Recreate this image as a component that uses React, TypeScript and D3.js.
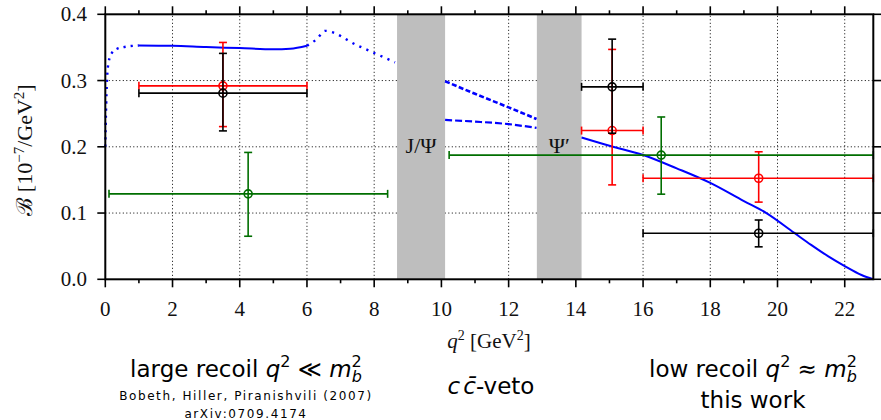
import React from 'react';
import * as d3 from 'd3';

// ---------- data ----------
const xDomain = [0, 22.85];
const yDomain = [0, 0.4];
const xTicksMajor = [0, 2, 4, 6, 8, 10, 12, 14, 16, 18, 20, 22];
const xTicksMinor = [1, 3, 5, 7, 9, 11, 13, 15, 17, 19, 21];
const yTicks = [0, 0.1, 0.2, 0.3, 0.4];
const yTickLabels = ['0.0', '0.1', '0.2', '0.3', '0.4'];
const xGrid = [2, 4, 6, 8, 10, 12, 14, 16, 18, 20, 22];
const yGrid = [0.1, 0.2, 0.3];
const vetoBands: [number, number][] = [[8.68, 10.11], [12.84, 14.17]];
const vetoLabels = ['J/Ψ', 'Ψ′'];

// theory curve pieces [q2, B]
const curveLowDotted: [number, number][] = [
  [0, 0.2], [0.02, 0.25], [0.05, 0.3], [0.1, 0.328], [0.2, 0.342], [0.35, 0.348], [0.6, 0.351], [1, 0.353],
];
const curveLowSolid: [number, number][] = [
  [1, 0.353], [2, 0.3525], [3, 0.3505], [4, 0.349], [5, 0.3472], [5.5, 0.348], [6, 0.3525],
];
const curveMidDotted: [number, number][] = [
  [6, 0.3525], [6.3, 0.363], [6.54, 0.375], [7.5, 0.353], [8.62, 0.3275],
];
const curveUpperDashed: [number, number][] = [
  [10.11, 0.299], [11, 0.28], [12, 0.2595], [12.83, 0.242],
];
const curveLowerDashed: [number, number][] = [
  [10.11, 0.2405], [11, 0.238], [12, 0.2342], [12.83, 0.2285],
];
const curveHigh: [number, number][] = [
  [14.17, 0.214], [15, 0.2015], [16, 0.1876], [17, 0.1675], [18, 0.1455], [19, 0.118],
  [19.67, 0.1], [20.5, 0.07], [21, 0.052], [21.5, 0.035], [22, 0.02], [22.5, 0.0065], [22.85, 0],
];

// measurements: x, xLow, xHigh, y, yLow, yHigh
const redPoints = [
  [3.5, 1, 6, 0.292, 0.2305, 0.3575],
  [15.08, 14.17, 16, 0.2245, 0.1425, 0.347],
  [19.44, 16, 22.85, 0.1525, 0.1165, 0.1925],
];
const blackPoints = [
  [3.5, 1, 6, 0.281, 0.224, 0.341],
  [15.08, 14.17, 16, 0.2905, 0.2205, 0.3625],
  [19.44, 16, 22.85, 0.0695, 0.049, 0.0895],
];
const greenPoints = [
  [4.25, 0.11, 8.4, 0.129, 0.065, 0.1915],
  [16.54, 10.23, 22.85, 0.1875, 0.1285, 0.245],
];

// ---------- layout ----------
const W = 881;
const H = 420;
const x = d3.scaleLinear().domain(xDomain).range([105.3, 873.3]);
const y = d3.scaleLinear().domain(yDomain).range([279.3, 14.3]);

const line = d3
  .line<[number, number]>()
  .x((d) => x(d[0]))
  .y((d) => y(d[1]))
  .curve(d3.curveMonotoneX);

const SERIF = '"Liberation Serif", "DejaVu Serif", serif';
const SANS = '"DejaVu Sans", sans-serif';
const BLUE = '#0000ff';
const RED = '#ff0000';
const GREEN = '#006e00';

function ErrPoints({ data, color }: { data: number[][]; color: string }) {
  const cap = 4;
  return (
    <g stroke={color} strokeWidth={1.6} fill="none">
      {data.map((p, i) => {
        const [px, xl, xh, py, yl, yh] = p;
        const cx = x(px), cy = y(py);
        return (
          <g key={i}>
            <line x1={x(xl)} x2={x(xh)} y1={cy} y2={cy} />
            <line x1={x(xl)} x2={x(xl)} y1={cy - cap} y2={cy + cap} />
            <line x1={x(xh)} x2={x(xh)} y1={cy - cap} y2={cy + cap} />
            <line x1={cx} x2={cx} y1={y(yl)} y2={y(yh)} />
            <line x1={cx - cap} x2={cx + cap} y1={y(yl)} y2={y(yl)} />
            <line x1={cx - cap} x2={cx + cap} y1={y(yh)} y2={y(yh)} />
            <circle cx={cx} cy={cy} r={4} />
          </g>
        );
      })}
    </g>
  );
}

export default function App() {
  const [x0, x1] = x.range();
  const [y0, y1] = y.range();
  return (
    <div style={{ position: 'absolute', left: 0, top: 0 }}>
      <svg width={W} height={H} viewBox={`0 0 ${W} ${H}`} style={{ display: 'block', background: '#fff' }}>
        {/* grid */}
        <g stroke="#000" strokeWidth={1} strokeDasharray="1 2.5">
          {xGrid.map((v) => (
            <line key={'gx' + v} x1={x(v)} x2={x(v)} y1={y0} y2={y1} />
          ))}
          {yGrid.map((v) => (
            <line key={'gy' + v} x1={x0} x2={x1} y1={y(v)} y2={y(v)} />
          ))}
        </g>
        {/* veto bands */}
        {vetoBands.map((b, i) => (
          <rect key={'b' + i} x={x(b[0])} y={y1} width={x(b[1]) - x(b[0])} height={y0 - y1} fill="#bebebe" />
        ))}
        {vetoBands.map((b, i) => (
          <text key={'bl' + i} x={(x(b[0]) + x(b[1])) / 2} y={153} textAnchor="middle" fontFamily={SERIF} fontSize={22} fill="#111">
            {vetoLabels[i]}
          </text>
        ))}
        {/* theory curves */}
        <g fill="none" stroke={BLUE}>
          <path d={line(curveLowDotted) || ''} strokeWidth={2.4} strokeDasharray="2.2 5" />
          <path d={line(curveLowSolid) || ''} strokeWidth={2} />
          <path d={line(curveMidDotted) || ''} strokeWidth={2.4} strokeDasharray="2.2 5.5" />
          <path d={line(curveUpperDashed) || ''} strokeWidth={2.6} strokeDasharray="5 2.4" />
          <path d={line(curveLowerDashed) || ''} strokeWidth={2.2} strokeDasharray="7 3" />
          <path d={line(curveHigh) || ''} strokeWidth={2} />
        </g>
        {/* measurements */}
        <ErrPoints data={redPoints} color={RED} />
        <ErrPoints data={blackPoints} color="#000" />
        <ErrPoints data={greenPoints} color={GREEN} />
        {/* frame */}
        <rect x={x0} y={y1} width={x1 - x0} height={y0 - y1} fill="none" stroke="#000" strokeWidth={2} />
        {/* ticks */}
        <g stroke="#000" strokeWidth={1.6}>
          {xTicksMajor.map((v) => (
            <g key={'tM' + v}>
              <line x1={x(v)} x2={x(v)} y1={y0} y2={y0 + 8} />
              <line x1={x(v)} x2={x(v)} y1={y1} y2={y1 - 8} />
            </g>
          ))}
          {xTicksMinor.map((v) => (
            <g key={'tm' + v}>
              <line x1={x(v)} x2={x(v)} y1={y0} y2={y0 + 4} />
              <line x1={x(v)} x2={x(v)} y1={y1} y2={y1 - 4} />
            </g>
          ))}
          {yTicks.map((v) => (
            <g key={'ty' + v}>
              <line x1={x0 - 8} x2={x0} y1={y(v)} y2={y(v)} />
              <line x1={x1} x2={x1 + 8} y1={y(v)} y2={y(v)} />
            </g>
          ))}
        </g>
        {/* tick labels */}
        <g fontFamily={SERIF} fontSize={21} fill="#111">
          {xTicksMajor.map((v) => (
            <text key={'lx' + v} x={x(v)} y={316} textAnchor="middle">
              {v}
            </text>
          ))}
          {yTicks.map((v, i) => (
            <text key={'ly' + v} x={87} y={y(v) + 7} textAnchor="end">
              {yTickLabels[i]}
            </text>
          ))}
        </g>
        {/* axis titles */}
        <text x={489} y={348} textAnchor="middle" fontFamily={SERIF} fontSize={21} fill="#111">
          <tspan fontStyle="italic">q</tspan>
          <tspan dy={-8} fontSize={14}>2</tspan>
          <tspan dy={8}> [GeV</tspan>
          <tspan dy={-8} fontSize={14}>2</tspan>
          <tspan dy={8}>]</tspan>
        </text>
        <text transform="translate(32,150) rotate(-90)" textAnchor="middle" fontFamily={SERIF} fontSize={22} fill="#111">
          <tspan>ℬ [10</tspan>
          <tspan dy={-8} fontSize={15}>−7</tspan>
          <tspan dy={8}>/GeV</tspan>
          <tspan dy={-8} fontSize={15}>2</tspan>
          <tspan dy={8}>]</tspan>
        </text>
        {/* bottom annotations */}
        <g fontFamily={SANS} fill="#000">
          <text x={246} y={377} textAnchor="middle" fontSize={23}>
            <tspan>large recoil </tspan>
            <tspan fontStyle="italic">q</tspan>
            <tspan dy={-10} fontSize={16}>2</tspan>
            <tspan dy={10}> ≪ </tspan>
            <tspan fontStyle="italic">m</tspan>
            <tspan dy={-10} fontSize={16}>2</tspan>
            <tspan dy={15} dx={-10} fontSize={16} fontStyle="italic">b</tspan>
          </text>
          <text x={246} y={400} textAnchor="middle" fontSize={12} letterSpacing={1.6}>
            Bobeth, Hiller, Piranishvili (2007)
          </text>
          <text x={246} y={418} textAnchor="middle" fontSize={12} letterSpacing={1.6}>
            arXiv:0709.4174
          </text>
          <text x={491} y={394} textAnchor="middle" fontSize={23}>
            <tspan fontStyle="italic">c</tspan>
            <tspan fontStyle="italic" dx={3}>c̄</tspan>
            <tspan>-veto</tspan>
          </text>
          <text x={753} y={377} textAnchor="middle" fontSize={23}>
            <tspan>low recoil </tspan>
            <tspan fontStyle="italic">q</tspan>
            <tspan dy={-10} fontSize={16}>2</tspan>
            <tspan dy={10}> ≈ </tspan>
            <tspan fontStyle="italic">m</tspan>
            <tspan dy={-10} fontSize={16}>2</tspan>
            <tspan dy={15} dx={-10} fontSize={16} fontStyle="italic">b</tspan>
          </text>
          <text x={753} y={408} textAnchor="middle" fontSize={23}>
            this work
          </text>
        </g>
      </svg>
    </div>
  );
}
